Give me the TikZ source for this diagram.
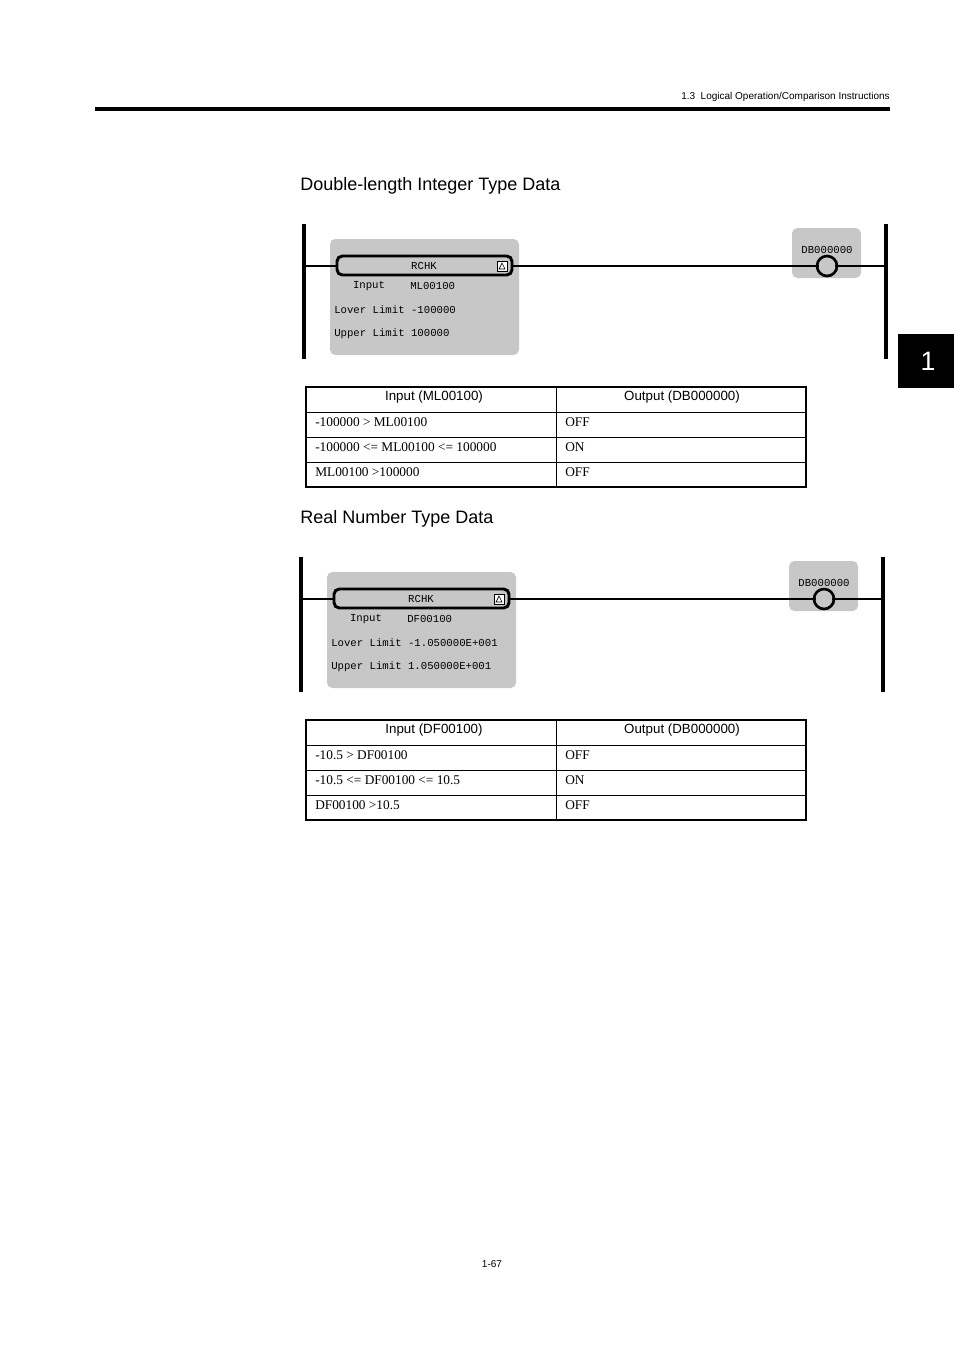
\documentclass[tikz,border=0pt]{standalone}
\usepackage{fontspec}
\setmainfont{Liberation Serif}
\setsansfont{Liberation Sans}
\setmonofont{Liberation Mono}
\begin{document}
\begin{tikzpicture}[x=0.75pt,y=-0.75pt,
  rail/.style={line width=3.5pt},
  rung/.style={line width=1.5pt},
  blk/.style={fill=black!22,rounded corners=4pt},
  mono/.style={font=\ttfamily\fontsize{8}{9}\selectfont,inner sep=0pt},
  cell/.style={font=\fontsize{10}{12}\selectfont,anchor=west,inner sep=0pt},
  hcell/.style={font=\sffamily\fontsize{10}{12}\selectfont,inner sep=0pt},
  heading/.style={font=\sffamily\fontsize{13.5}{16}\selectfont,anchor=west,inner sep=0pt}]
\useasboundingbox (0,0) rectangle (954,1350);
\node[font=\sffamily\fontsize{7.5}{9}\selectfont,anchor=east,inner sep=0pt] (hdr) at (890,97) {1.3\ \ Logical Operation/Comparison Instructions};
\draw[line width=3pt] (95,109) -- (890,109);
\fill (898,334) rectangle (954,388);
\node[white,font=\sffamily\fontsize{20}{24}\selectfont] (tab) at (928,361) {1};

\newcommand{\ladder}[8]{%
% #1 dx, #2 dy, #3 input, #4 lower, #5 upper, #6 label, #7 table header
\begin{scope}[shift={(#1,#2)}]
\node[heading] (h#6) at (300,186) {#7};
\draw[rail] (304,224) -- (304,359);
\draw[rail] (886,224) -- (886,359);
\fill[blk] (330,239) rectangle (519,355);
\fill[blk] (792,228) rectangle (861,278);
\coordinate (L#6) at (304,266);
\coordinate (R#6) at (886,266);
\draw[rung] (L#6) -- (337,266);
\draw[rung] (512,266) -- (819,266);
\draw[rung] (835,266) -- (R#6);
\draw[line width=2.2pt,fill=black!22,rounded corners=4pt] (337,256) rectangle (512,275);
\node[mono] (rc#6) at (424,266) {RCHK};
\draw[fill=white,line width=0.6pt] (497,261) rectangle (507,271);
\draw[line width=0.5pt] (499,269) -- (502,263) -- (505,269) -- cycle;
\node[mono] (coil#6) at (827,266) [circle,draw,line width=2pt,minimum size=15pt] {};
\node[mono] (db#6) at (827,250) {DB000000};
\node[mono] (in#6) at (369,286) {Input};
\node[mono,anchor=west] (inv#6) at (410,286) {#3};
\node[mono,anchor=west] (lo#6) at (334,310) {Lover Limit #4};
\node[mono,anchor=west] (up#6) at (334,334) {Upper Limit #5};
\end{scope}}
\newcommand{\rtable}[9]{%
\begin{scope}[shift={(0,#1)}]
\draw[line width=0.8pt] (306,387) rectangle (806,487);
\draw[line width=0.6pt] (556,387) -- (556,487);
\foreach \yy in {412,437,462} \draw[line width=0.6pt] (306,\yy) -- (806,\yy);
\node[hcell] (ta#9) at (434,397) {#2};
\node[hcell] (tb#9) at (682,397) {Output (DB000000)};
\node[cell] (r1#9) at (315,422) {#3};
\node[cell] (r2#9) at (315,447) {#4};
\node[cell] (r3#9) at (315,472) {#5};
\node[cell] (s1#9) at (565,422) {OFF};
\node[cell] (s2#9) at (565,447) {ON};
\node[cell] (s3#9) at (565,472) {OFF};
\end{scope}}
\ladder{0}{0}{ML00100}{-100000}{100000}{a}{Double-length Integer Type Data}{}
\rtable{0}{Input (ML00100)}{-100000 > ML00100}{-100000 <= ML00100 <= 100000}{ML00100 >100000}{}{}{}{a}
\ladder{-3}{333}{DF00100}{-1.050000E+001}{1.050000E+001}{b}{}{}
\node[heading] (hb2) at (300,519) {Real Number Type Data};
\rtable{333}{Input (DF00100)}{-10.5 > DF00100}{-10.5 <= DF00100 <= 10.5}{DF00100 >10.5}{}{}{}{b}
\node[font=\sffamily\fontsize{7.5}{9}\selectfont] (pg) at (492,1264) {1-67};
\end{tikzpicture}
\end{document}
